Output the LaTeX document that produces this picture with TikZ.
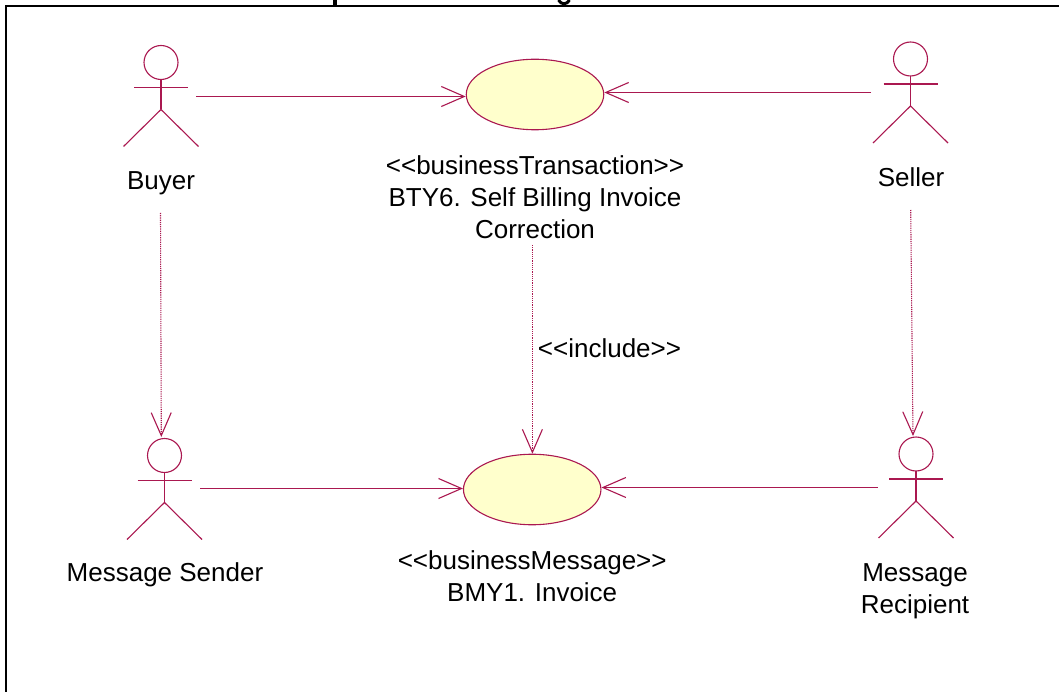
\documentclass[tikz,border=0pt]{standalone}
\usepackage{fontspec}
\setmainfont{Liberation Sans}
\usepackage{tikz}
\usetikzlibrary{
        arrows.meta,
        positioning,
        shapes.geometric
    }
\definecolor{umlred}{RGB}{170,24,80}
\definecolor{umlfill}{RGB}{255,255,204}
\tikzset{>={Straight Barb[length=23pt,width=20pt,line width=1.1pt]},shorten >=0pt,auto}
\tikzset{umlline/.style={draw=umlred,line width=1.1pt}}
\tikzset{dep/.style={umlline,dash pattern=on 1.2pt off 1pt}}
\tikzset{usecase/.style={ellipse,umlline,fill=umlfill,minimum width=137.5pt,minimum height=70.5pt,inner sep=0pt}}
\tikzset{lbl/.style={align=center,inner sep=0pt,font=\fontsize{26}{32}\selectfont}}
\tikzset{actor/.pic={
        \draw[umlline] (0,0) circle (17pt);
        \draw[umlline] (0,17) -- (0,47) (-27,25) -- (27,25);
        \draw[umlline] (-37.5,84) -- (0,47) -- (37.5,84);
    }}

\begin{document}
\begin{tikzpicture}[x=1pt,y=-1pt]
                \clip (0,0) rectangle (1059,692);
                \fill[white] (0,0) rectangle (1059,692);
                % what is left of the cut off title
                \fill[black] (333,0) rectangle (337,5);
                \draw[black,line width=3pt] (558.5,0) .. controls (561,5) and (567,5) .. (569.5,0);
                \draw[black,line width=2pt] (5.7,5.7) rectangle (1075,710);

                \pic at (161,62.5) {actor};
                \pic at (910.5,59) {actor};
                \pic at (164.5,455.5) {actor};
                \pic at (916,454) {actor};

                \node[usecase] (caseA) at (535,94.5) {};
                \node[usecase] (caseB) at (532.2,489.5) {};

                \node[lbl] (buyer) at (161,183) {Buyer};
                \node[lbl] (seller) at (911,177) {Seller};
                \node[lbl] (sender) at (165,575) {Message Sender};
                \node[lbl] (recipient) at (915,591) {Message\\Recipient};
                \node[lbl,below=25pt of caseA] (caseAtext) {<{}<businessTransaction>{}>\\BTY6. Self Billing Invoice\\Correction};
                \node[lbl,below=25pt of caseB] (caseBtext) {<{}<businessMessage>{}>\\BMY1. Invoice};

                \coordinate (buyerR) at (196.4,96.5);
                \coordinate (sellerL) at (871,92.5);
                \coordinate (senderR) at (200,488.5);
                \coordinate (recipientL) at (877.7,487.5);
                \coordinate (buyerB) at (160.5,213);
                \coordinate (sellerB) at (910.7,210);
                \coordinate (senderT) at (161.3,437);
                \coordinate (recipientT) at (913,436);
                \coordinate (caseAB) at (532.4,245);

                \path[->]
                    (buyerR) edge[umlline] (buyerR -| caseA.west)
                    (sellerL) edge[umlline] (sellerL -| caseA.east)
                    (senderR) edge[umlline] (senderR -| caseB.west)
                    (recipientL) edge[umlline] (recipientL -| caseB.east)
                    (buyerB) edge[dep] (senderT)
                    (sellerB) edge[dep] (recipientT)
                    (caseAB) edge[dep] node[lbl,pos=0.495,right=5pt] (incl) {<{}<include>{}>} (caseAB |- caseB.north)
                ;
            \end{tikzpicture}
\end{document}
